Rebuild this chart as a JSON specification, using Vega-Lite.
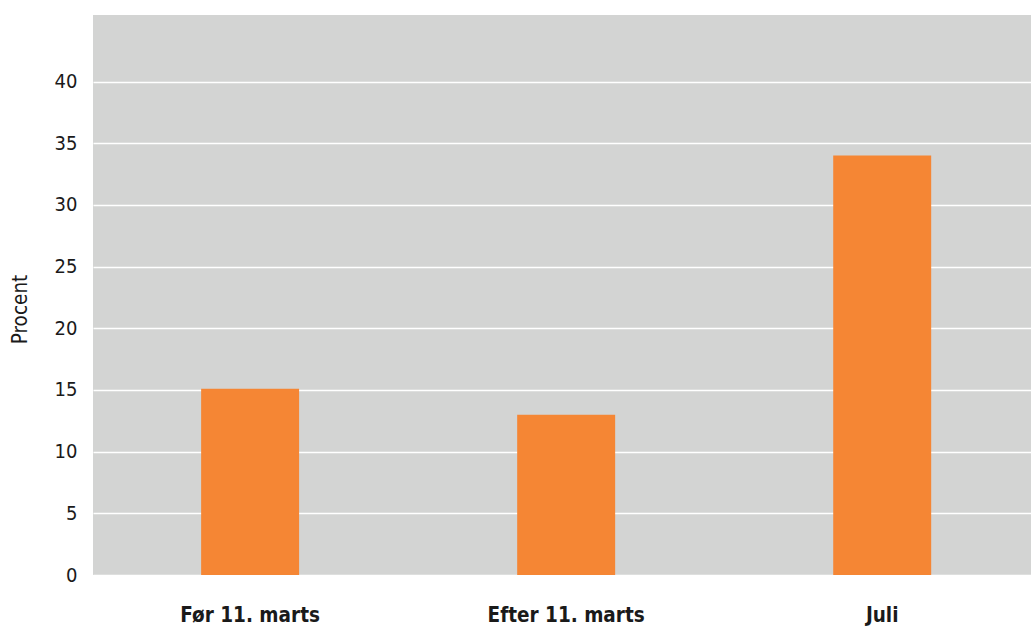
{
  "$schema": "https://vega.github.io/schema/vega-lite/v6.json",
  "width": 938,
  "height": 560,
  "autosize": {"type": "none"},
  "padding": {"left": 93, "top": 15, "right": 0, "bottom": 53},
  "background": "white",
  "view": {"fill": "#d3d4d3", "stroke": null},
  "data": {
    "values": [
      {"periode": "Før 11. marts", "procent": 15.1},
      {"periode": "Efter 11. marts", "procent": 13.0},
      {"periode": "Juli", "procent": 34.0}
    ]
  },
  "mark": {"type": "bar", "color": "#f58634"},
  "encoding": {
    "x": {
      "field": "periode",
      "type": "nominal",
      "sort": null,
      "scale": {"paddingInner": 0.69, "paddingOuter": 0.329, "align": 0.52},
      "axis": {
        "title": null,
        "labelAngle": 0,
        "labelLimit": 0,
        "ticks": false,
        "domain": false,
        "labelFont": "DejaVu Sans Condensed, Roboto",
        "labelFontWeight": "bold",
        "labelFontSize": 20.5,
        "labelColor": "#1a1a1a",
        "labelPadding": 30
      }
    },
    "y": {
      "field": "procent",
      "type": "quantitative",
      "scale": {"domain": [0, 45.4], "nice": false},
      "axis": {
        "title": "Procent",
        "values": [0, 5, 10, 15, 20, 25, 30, 35, 40],
        "ticks": false,
        "domain": false,
        "grid": true,
        "gridColor": "white",
        "gridWidth": 1.5,
        "labelFont": "DejaVu Sans Condensed, Roboto",
        "labelFontSize": 20,
        "labelColor": "#1a1a1a",
        "labelPadding": 16,
        "titleFont": "DejaVu Sans Condensed, Roboto",
        "titleFontWeight": "normal",
        "titleFontSize": 20.5,
        "titleColor": "#1a1a1a",
        "titlePadding": 24,
        "titleY": 294
      }
    }
  }
}
